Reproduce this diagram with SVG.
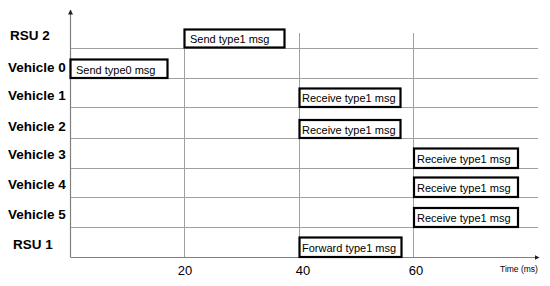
<svg xmlns="http://www.w3.org/2000/svg" width="550" height="286" viewBox="0 0 550 286">
<style>
.grid{stroke:#a0a0a0;stroke-width:1;fill:none}
.axis{stroke:#808080;stroke-width:1.2;fill:none}
.lbl{font-family:"Liberation Sans",Arial,sans-serif;font-weight:bold;font-size:13.5px;fill:#000}
.box{fill:#fff;stroke:#000;stroke-width:2.2}
.bt{font-family:"Liberation Sans",Arial,sans-serif;font-size:11px;fill:#000}
.tick{font-family:"Liberation Sans",Arial,sans-serif;font-size:13px;fill:#000;text-anchor:middle}
</style>
<defs>
<marker id="ah" viewBox="0 0 10 10" refX="9" refY="5" markerWidth="5" markerHeight="5" orient="auto" markerUnits="userSpaceOnUse">
<path d="M0,0 L10,5 L0,10 z" fill="#222"/>
</marker>
</defs>
<g id="grid">
<line class="grid" x1="70.5" y1="48.5" x2="538" y2="48.5"/>
<line class="grid" x1="70.5" y1="78.5" x2="538" y2="78.5"/>
<line class="grid" x1="70.5" y1="107.5" x2="538" y2="107.5"/>
<line class="grid" x1="70.5" y1="138.5" x2="538" y2="138.5"/>
<line class="grid" x1="70.5" y1="168.5" x2="538" y2="168.5"/>
<line class="grid" x1="70.5" y1="197.5" x2="538" y2="197.5"/>
<line class="grid" x1="70.5" y1="227.5" x2="538" y2="227.5"/>
<line class="grid" x1="184.5" y1="33" x2="184.5" y2="257"/>
<line class="grid" x1="299.5" y1="33" x2="299.5" y2="257"/>
<line class="grid" x1="413.5" y1="33" x2="413.5" y2="257"/>
</g>
<g id="connectors">
<line class="axis" x1="70.5" y1="257.5" x2="70.5" y2="10" marker-end="url(#ah)"/>
<line class="axis" x1="70.5" y1="257.5" x2="539" y2="257.5" marker-end="url(#ah)"/>
</g>
<g id="labels">
<text class="lbl" x="10" y="40">RSU 2</text>
<text class="lbl" x="8" y="72">Vehicle 0</text>
<text class="lbl" x="8" y="100">Vehicle 1</text>
<text class="lbl" x="8" y="131">Vehicle 2</text>
<text class="lbl" x="8" y="159">Vehicle 3</text>
<text class="lbl" x="8" y="189">Vehicle 4</text>
<text class="lbl" x="8" y="219">Vehicle 5</text>
<text class="lbl" x="13" y="249">RSU 1</text>
</g>
<g id="ticks">
<text class="tick" x="185" y="275">20</text>
<text class="tick" x="303" y="275">40</text>
<text class="tick" x="416" y="275">60</text>
<text x="500" y="272" style="font-family:'Liberation Sans',Arial,sans-serif;font-size:8.5px">Time (ms)</text>
</g>
<g id="n-rsu2-send">
<rect class="box" x="184.5" y="29.5" width="100" height="18"/>
<text class="bt" x="190" y="43">Send type1 msg</text>
</g>
<g id="n-v0-send">
<rect class="box" x="70.5" y="59.5" width="97" height="18.5"/>
<text class="bt" x="76" y="74">Send type0 msg</text>
</g>
<g id="n-v1-recv">
<rect class="box" x="299.5" y="88.5" width="101" height="18.5"/>
<text class="bt" x="302" y="102">Receive type1 msg</text>
</g>
<g id="n-v2-recv">
<rect class="box" x="299.5" y="120" width="101" height="18"/>
<text class="bt" x="302" y="134">Receive type1 msg</text>
</g>
<g id="n-v3-recv">
<rect class="box" x="414" y="148.5" width="104" height="19.5"/>
<text class="bt" x="417" y="163">Receive type1 msg</text>
</g>
<g id="n-v4-recv">
<rect class="box" x="414" y="177.5" width="104" height="19.5"/>
<text class="bt" x="417" y="192">Receive type1 msg</text>
</g>
<g id="n-v5-recv">
<rect class="box" x="414" y="208" width="104" height="19"/>
<text class="bt" x="417" y="222">Receive type1 msg</text>
</g>
<g id="n-rsu1-fwd">
<rect class="box" x="299.5" y="237.5" width="102" height="19.5"/>
<text class="bt" x="302" y="252">Forward type1 msg</text>
</g>
</svg>
